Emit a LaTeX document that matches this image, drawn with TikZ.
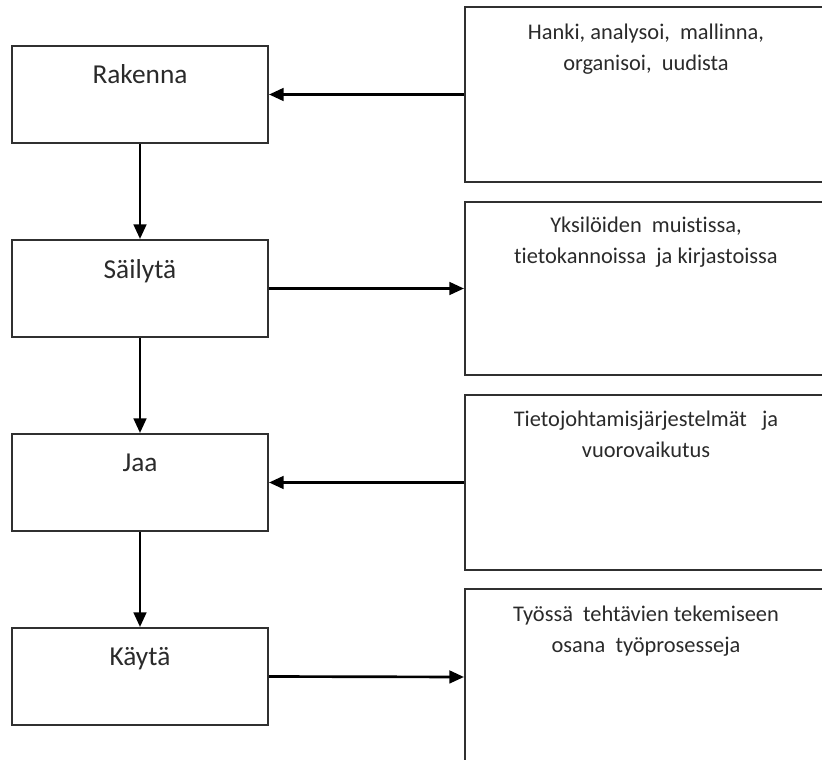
\documentclass[tikz,border=0pt]{standalone}
\usepackage{fontspec}
\setmainfont{Carlito}[RawFeature={-liga}]
\usetikzlibrary{arrows.meta}
\definecolor{inkgray}{HTML}{2A2A2A}
\definecolor{framegray}{HTML}{303030}
\tikzset{
  stagebox/.style={draw=framegray, line width=1.5pt, minimum width=192pt,
    minimum height=72.75pt, inner sep=0pt},
  notebox/.style={draw=framegray, line width=1.5pt, minimum width=271.5pt,
    inner sep=0pt},
  stagetext/.style={font=\fontsize{20.5}{24}\selectfont, text=inkgray,
    anchor=base, inner sep=0pt},
  notetext/.style={font=\fontsize{16.8}{23.25}\selectfont, text=inkgray,
    align=center, anchor=north, inner sep=0pt},
  flow/.style={draw=black, line width=2pt,
    -{Triangle[length=11pt,width=9.5pt]}}
}
\begin{document}
\begin{tikzpicture}[x=0.75pt,y=-0.75pt]
  \useasboundingbox (0,0) rectangle (822,760);
  \clip (0,0) rectangle (822,760);

  % process steps (left column)
  \node[stagebox] (s1) at (140,94.5) {};
  \node[stagebox] (s2) at (140,288.5) {};
  \node[stagebox] (s3) at (140,482.5) {};
  \node[stagebox] (s4) at (140,676.5) {};
  \node[stagetext] (t1) at (140,83) {Rakenna};
  \node[stagetext] (t2) at (140,278) {Säilytä};
  \node[stagetext] (t3) at (140,471) {Jaa};
  \node[stagetext] (t4) at (140,665) {Käytä};

  % descriptions (right column, running off the page edge)
  \node[notebox, minimum height=131.25pt] (n1) at (646,94.5) {};
  \node[notebox, minimum height=129.75pt] (n2) at (646,288.5) {};
  \node[notebox, minimum height=131.25pt] (n3) at (646,482.5) {};
  \node[notebox, minimum height=132pt] (n4) at (646,677) {};
  \node[notetext] (d1) at (646,24) {Hanki, analysoi,\ \ mallinna,\\organisoi,\ \ uudista};
  \node[notetext] (d2) at (646,217) {Yksilöiden\ \ muistissa,\\tietokannoissa\ \ ja kirjastoissa};
  \node[notetext] (d3) at (646,411) {Tietojohtamisjärjestelmät\ \ \ ja\\vuorovaikutus};
  \node[notetext] (d4) at (646,606) {Työssä\ \ tehtävien tekemiseen\\osana\ \ työprosesseja};

  % connectors
  \draw[flow] (n1.west) -- (s1.east);
  \draw[flow] (s1.south) -- (s2.north);
  \draw[flow] (s2.east) -- (n2.west);
  \draw[flow] (s2.south) -- (s3.north);
  \draw[flow] (n3.west) -- (s3.east);
  \draw[flow] (s3.south) -- (s4.north);
  \draw[flow] (s4.east) -- (n4.west);
\end{tikzpicture}
\end{document}
